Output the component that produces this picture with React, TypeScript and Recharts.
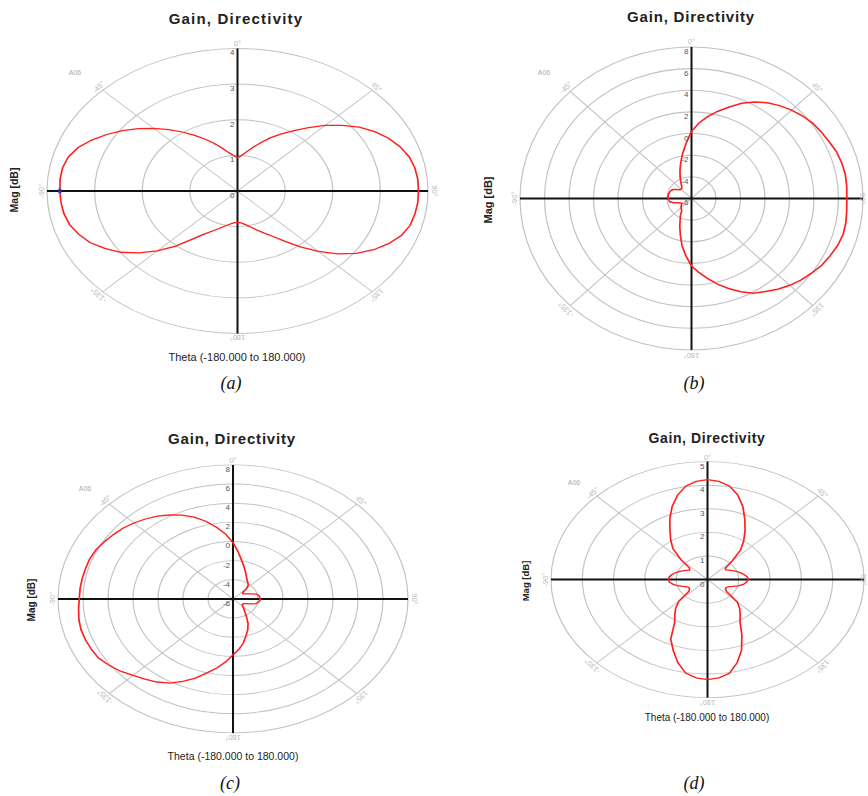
import React from 'react';
import { RadarChart, Radar, PolarGrid, PolarAngleAxis, PolarRadiusAxis } from 'recharts';

// Theta categories, clockwise from the top (0°), 5° steps
const thetaCategories = [
  0, 5, 10, 15, 20, 25, 30, 35, 40, 45, 50, 55, 60, 65, 70, 75, 80, 85, 90,
  95, 100, 105, 110, 115, 120, 125, 130, 135, 140, 145, 150, 155, 160, 165, 170, 175, 180,
  -175, -170, -165, -160, -155, -150, -145, -140, -135, -130, -125, -120, -115, -110, -105, -100,
  -95, -90, -85, -80, -75, -70, -65, -60, -55, -50, -45, -40, -35, -30, -25, -20, -15, -10, -5,
];

const gainA = [
  0.93, 1.0, 1.12, 1.27, 1.45, 1.65, 1.85, 2.07, 2.32, 2.6, 2.86, 3.12, 3.33, 3.5, 3.63, 3.73, 3.78, 3.8, 3.8,
  3.8, 3.78, 3.75, 3.66, 3.5, 3.3, 3.05, 2.75, 2.4, 2.05, 1.72, 1.47, 1.3, 1.16, 1.05, 0.96, 0.9, 0.88,
  0.9, 0.95, 1.02, 1.12, 1.24, 1.4, 1.65, 2.02, 2.38, 2.7, 3.0, 3.22, 3.42, 3.55, 3.65, 3.7,
  3.72, 3.73, 3.74, 3.73, 3.68, 3.56, 3.38, 3.17, 2.95, 2.72, 2.48, 2.25, 2.02, 1.8, 1.6, 1.42, 1.25, 1.1, 1.0,
];

const gainB = [
  0.2, 1.0, 1.7, 2.35, 3.0, 3.7, 4.3, 4.8, 5.2, 5.55, 5.85, 6.1, 6.25, 6.4, 6.6, 6.7, 6.75, 6.72, 6.68,
  6.72, 6.8, 6.82, 6.7, 6.5, 6.3, 6.0, 5.7, 5.35, 4.95, 4.5, 4.1, 3.5, 2.85, 2.2, 1.5, 0.85, 0.25,
  -0.7, -1.55, -2.5, -3.2, -3.8, -4.2, -4.6, -4.72, -4.8, -4.9, -5.0, -5.1, -5.0, -4.84, -4.5, -4.2,
  -4.15, -4.1, -4.08, -4.07, -4.1, -4.14, -4.2, -4.35, -4.55, -4.75, -4.8, -4.77, -4.6, -4.25, -3.8, -3.25, -2.6, -1.8, -0.9,
];

const gainC = [
  -0.1, -1.1, -1.95, -2.55, -3.05, -3.45, -3.75, -3.93, -4.1, -4.45, -5.0, -5.05, -4.95, -4.75, -4.45, -4.05, -3.9, -3.85, -3.84,
  -3.85, -3.95, -4.1, -4.5, -4.85, -5.0, -5.05, -5.05, -4.9, -4.65, -4.35, -3.85, -3.15, -2.55, -2.0, -1.3, -0.7, -0.15,
  0.6, 1.3, 2.0, 2.8, 3.5, 4.15, 4.6, 4.95, 5.3, 5.75, 6.1, 6.4, 6.5, 6.55, 6.58, 6.52,
  6.4, 6.3, 6.28, 6.25, 6.22, 6.2, 6.1, 5.9, 5.7, 5.5, 5.22, 4.9, 4.55, 4.12, 3.65, 3.1, 2.4, 1.6, 0.8,
];

const gainD = [
  4.24, 4.18, 4.03, 3.72, 3.3, 2.82, 2.4, 2.02, 1.65, 1.12, 0.74, 0.72, 0.8, 0.9, 1.0, 1.1, 1.2, 1.28, 1.3,
  1.25, 1.16, 1.02, 0.85, 0.72, 0.68, 0.7, 0.8, 1.35, 1.6, 1.82, 2.08, 2.6, 3.18, 3.65, 4.03, 4.18, 4.24,
  4.18, 4.02, 3.65, 3.2, 2.78, 2.1, 1.82, 1.58, 1.3, 0.78, 0.7, 0.68, 0.72, 0.84, 1.0, 1.12,
  1.22, 1.25, 1.23, 1.17, 1.08, 0.98, 0.88, 0.78, 0.7, 0.75, 1.2, 1.72, 2.05, 2.4, 2.85, 3.3, 3.7, 4.02, 4.18,
];

const angleLabels: Record<string, string> = {
  '0': '0°', '45': '45°', '90': '90°', '135': '135°', '180': '180°',
  '-135': '-135°', '-90': '-90°', '-45': '-45°',
};

const TITLE = 'Gain, Directivity';
const YLABEL = 'Mag [dB]';
const XLABEL = 'Theta (-180.000 to 180.000)';
const CORNER = 'A06';

type PanelProps = {
  cx: number; cy: number; rx: number; ry: number;
  values: number[]; domain: [number, number]; tickCount: number; markerTheta?: number; rightInset?: number;
};

function PolarPanel({ cx, cy, rx, ry, values, domain, tickCount, markerTheta, rightInset = 0 }: PanelProps) {
  const s = ry / rx;
  const pad = 26;
  const size = 2 * rx + 2 * pad;
  const data = thetaCategories.map((t, i) => ({ theta: t, gain: values[i] }));
  const markerIndex = markerTheta === undefined ? -1 : thetaCategories.indexOf(markerTheta);

  const angleTick = (p: any) => {
    const v = p.payload?.value;
    const label = angleLabels[String(v)];
    if (!label) return <g />;
    const x = v === 90 ? p.x - rightInset : p.x;
    return (
      <g transform={`translate(${x},${p.y}) scale(1,${1 / s})`}>
        <text x={0} y={0} textAnchor="middle" dominantBaseline="central" fontSize={7.5}
          fill="#b8b8b8" fontFamily="Liberation Sans, Arial, sans-serif" transform={`rotate(${v})`}>
          {label}
        </text>
      </g>
    );
  };

  const radiusTick = (p: any) => (
    <g transform={`translate(${p.x - 3},${p.y}) scale(1,${1 / s})`}>
      <text x={0} y={7} textAnchor="end" fontSize={8} fill="#4d5575"
        fontFamily="Liberation Sans, Arial, sans-serif">{p.payload?.value}</text>
    </g>
  );

  const dot = (p: any) => {
    if (p.index === markerIndex) {
      return <rect key={`m${p.index}`} x={p.cx - 1.5} y={p.cy - 3} width={3} height={6} fill="#2233cc" />;
    }
    return <g key={`d${p.index}`} />;
  };

  return (
    <div style={{
      position: 'absolute', left: cx - size / 2, top: cy - (size / 2) * s,
      width: size, height: size, transform: `scaleY(${s})`, transformOrigin: '0 0',
    }}>
      <RadarChart width={size} height={size} data={data} cx={size / 2} cy={size / 2}
        outerRadius={rx} margin={{ top: 0, right: 0, bottom: 0, left: 0 }}>
        <PolarGrid gridType="circle" radialLines={false} stroke="#c2c2c2" strokeWidth={1.2} />
        <PolarGrid gridType="circle" polarAngles={[45, -45, 135, 225]} polarRadius={[]} stroke="#c2c2c2" strokeWidth={1.1} />
        <PolarGrid gridType="circle" polarAngles={[90, 270]} polarRadius={[]} stroke="#111" strokeWidth={2} />
        <PolarGrid gridType="circle" polarAngles={[0, 180]} polarRadius={[]} stroke="#111" strokeWidth={2 / s} />
        <PolarAngleAxis dataKey="theta" tick={angleTick} tickLine={false} axisLine={false} tickSize={6} />
        <PolarRadiusAxis angle={90} type="number" domain={domain} tickCount={tickCount}
          axisLine={false} tickLine={false} tick={radiusTick} />
        <Radar dataKey="gain" stroke="#ff1f1f" strokeWidth={1.7} fill="none" fillOpacity={0}
          isAnimationActive={false} dot={markerTheta === undefined ? false : dot} />
      </RadarChart>
    </div>
  );
}

const font = 'Liberation Sans, Arial, sans-serif';

function Txt({ x, y, children, style }: { x: number; y: number; children: React.ReactNode; style?: React.CSSProperties }) {
  return (
    <div style={{
      position: 'absolute', left: x, top: y, transform: 'translate(-50%,-50%)', whiteSpace: 'nowrap',
      fontFamily: font, lineHeight: 1, ...style,
    }}>{children}</div>
  );
}

function VTxt({ x, y, children, size }: { x: number; y: number; children: React.ReactNode; size: number }) {
  return (
    <div style={{
      position: 'absolute', left: x, top: y, transform: 'translate(-50%,-50%) rotate(-90deg)',
      whiteSpace: 'nowrap', fontFamily: font, fontSize: size, fontWeight: 'bold', color: '#222', lineHeight: 1,
    }}>{children}</div>
  );
}

const titleStyle = (size: number, ls: number): React.CSSProperties => ({
  fontSize: size, fontWeight: 'bold', color: '#222', letterSpacing: ls,
});
const capStyle: React.CSSProperties = {
  fontFamily: 'Liberation Serif, Times New Roman, serif', fontStyle: 'italic', fontSize: 18, color: '#111',
};
const cornerStyle: React.CSSProperties = { fontSize: 7, color: '#aaa' };
const xlabStyle = (size: number): React.CSSProperties => ({ fontSize: size, color: '#222' });

export default function App() {
  return (
    <div style={{ position: 'absolute', left: 0, top: 0, width: 868, height: 796, background: '#fff', overflow: 'hidden' }}>
      {/* (a) */}
      <PolarPanel cx={237.5} cy={190.5} rx={190.5} ry={142.5} values={gainA} domain={[0, 4]} tickCount={5} markerTheta={-90} />
      <Txt x={236} y={18} style={titleStyle(15, 1.2)}>{TITLE}</Txt>
      <VTxt x={14} y={190} size={10.5}>{YLABEL}</VTxt>
      <Txt x={237} y={357} style={xlabStyle(11)}>{XLABEL}</Txt>
      <Txt x={75} y={72} style={cornerStyle}>{CORNER}</Txt>
      <Txt x={231} y={383} style={capStyle}>(a)</Txt>

      {/* (b) */}
      <PolarPanel cx={691} cy={198.5} rx={171.5} ry={151.5} values={gainB} domain={[-6, 8]} tickCount={8} rightInset={7} />
      <Txt x={691} y={16} style={titleStyle(15, 0.8)}>{TITLE}</Txt>
      <VTxt x={488} y={200} size={11}>{YLABEL}</VTxt>
      <Txt x={544} y={72} style={cornerStyle}>{CORNER}</Txt>
      <Txt x={694} y={383} style={capStyle}>(b)</Txt>

      {/* (c) */}
      <PolarPanel cx={233} cy={599} rx={175} ry={134} values={gainC} domain={[-6, 8]} tickCount={8} />
      <Txt x={232} y={438} style={titleStyle(15, 0.8)}>{TITLE}</Txt>
      <VTxt x={32} y={600} size={10}>{YLABEL}</VTxt>
      <Txt x={233} y={756} style={xlabStyle(10.5)}>{XLABEL}</Txt>
      <Txt x={85} y={488} style={cornerStyle}>{CORNER}</Txt>
      <Txt x={230} y={783} style={capStyle}>(c)</Txt>

      {/* (d) */}
      <PolarPanel cx={707.5} cy={580} rx={156.5} ry={118} values={gainD} domain={[0, 5]} tickCount={6} rightInset={7} />
      <Txt x={707} y={438} style={titleStyle(14, 0.6)}>{TITLE}</Txt>
      <VTxt x={526} y={581} size={9.5}>{YLABEL}</VTxt>
      <Txt x={707} y={718} style={xlabStyle(10)}>{XLABEL}</Txt>
      <Txt x={574} y={482} style={cornerStyle}>{CORNER}</Txt>
      <Txt x={694} y={783} style={capStyle}>(d)</Txt>
    </div>
  );
}
